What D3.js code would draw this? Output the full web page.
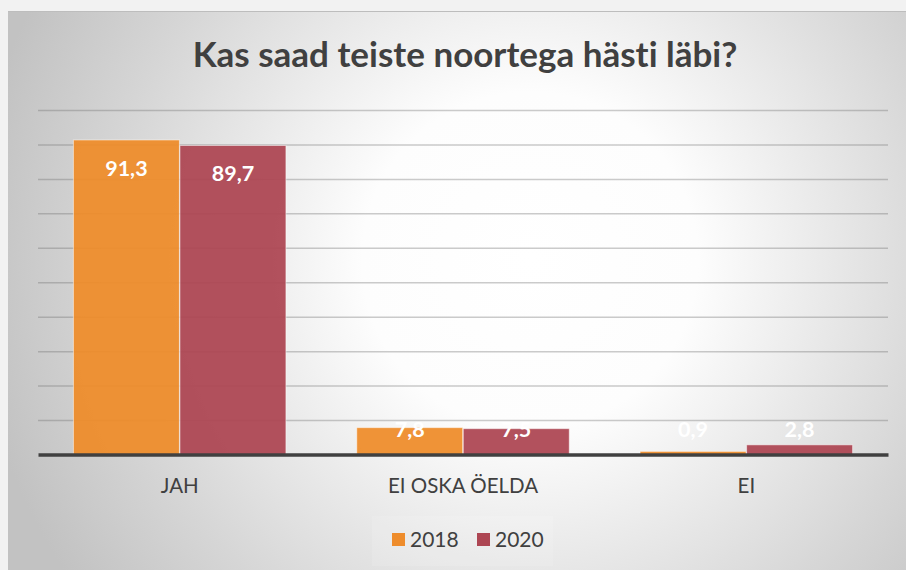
<!DOCTYPE html>
<html>
<head>
<meta charset="utf-8">
<script src="https://cdn.jsdelivr.net/npm/d3@7"></script>
<style>
	body { margin: 0; background: #f2f2f2; }
	text { font-family: Lato, "Open Sans", sans-serif; font-variant-ligatures: none; }
</style>
</head>
<body>
<div id="chart-area"></div>
<script>
// Data
var categories = ["JAH", "EI OSKA ÖELDA", "EI"];
var years = ["2018", "2020"];
var values2018 = [91.3, 7.8, 0.9];
var values2020 = [89.7, 7.5, 2.8];
var gridTicks = [10, 20, 30, 40, 50, 60, 70, 80, 90, 100];

var yearColor = d3.scaleOrdinal()
	.domain(years)
	.range(["#ee8c2b", "#ad4653"]);

var svg = d3.select("#chart-area")
	.append("svg")
	.attr("width", 906)
	.attr("height", 570);

// Panel background
var grad = svg.append("defs")
	.append("radialGradient")
	.attr("id", "bg")
	.attr("gradientUnits", "userSpaceOnUse")
	.attr("cx", 530)
	.attr("cy", 260)
	.attr("r", 560);
grad.append("stop").attr("offset", 0).attr("stop-color", "#ffffff");
grad.append("stop").attr("offset", 0.3).attr("stop-color", "#fdfdfd");
grad.append("stop").attr("offset", 0.75).attr("stop-color", "#d6d6d6");
grad.append("stop").attr("offset", 1).attr("stop-color", "#c2c2c2");

svg.append("rect")
	.attr("x", 8)
	.attr("y", 11)
	.attr("width", 898)
	.attr("height", 559)
	.attr("fill", "url(#bg)");
svg.append("line")
	.attr("x1", 8).attr("x2", 906)
	.attr("y1", 11.5).attr("y2", 11.5)
	.attr("stroke", "#bdbdbd");

// Title
svg.append("text")
	.attr("x", 465)
	.attr("y", 67)
	.attr("text-anchor", "middle")
	.attr("font-size", "35px")
	.attr("font-weight", "bold")
	.attr("fill", "#404040")
	.text("Kas saad teiste noortega hästi läbi?");

// Scales
var x0 = d3.scaleBand()
	.domain(categories)
	.range([38, 888])
	.paddingInner(0.25)
	.paddingOuter(0.125);

var x1 = d3.scaleBand()
	.domain(years)
	.range([0, x0.bandwidth()])
	.paddingInner(0.005);

var y = d3.scaleLinear()
	.domain([0, 100])
	.range([454.5, 110]);

// Gridlines
var yAxis = d3.axisLeft(y)
	.tickValues(gridTicks)
	.tickSize(-(888 - 38))
	.tickFormat("");

svg.append("g")
	.attr("class", "grid")
	.attr("transform", "translate(38,0)")
	.call(yAxis)
	.call(function (g) { g.select(".domain").remove(); })
	.selectAll("line")
	.attr("stroke", "#707070")
	.attr("stroke-opacity", 0.36)
	.attr("stroke-width", 1.5);

// Bars
var rows = categories.map(function (c, i) {
	return { cat: c, vals: [
		{ year: "2018", value: values2018[i] },
		{ year: "2020", value: values2020[i] }
	] };
});

var groups = svg.append("g")
	.selectAll("g")
	.data(rows)
	.enter()
	.append("g")
	.attr("transform", function (d) { return "translate(" + x0(d.cat) + ",0)"; });

groups.selectAll("rect")
	.data(function (d) { return d.vals; })
	.enter()
	.append("rect")
	.attr("x", function (d) { return x1(d.year); })
	.attr("y", function (d) { return y(d.value); })
	.attr("width", x1.bandwidth())
	.attr("height", function (d) { return y(0) - y(d.value); })
	.attr("fill", function (d) { return yearColor(d.year); })
	.attr("fill-opacity", 0.94)
	.attr("stroke", "#ffffff")
	.attr("stroke-opacity", 0.5)
	.attr("stroke-width", 1);

// Value labels
groups.selectAll("text")
	.data(function (d) { return d.vals; })
	.enter()
	.append("text")
	.attr("x", function (d) { return x1(d.year) + x1.bandwidth() / 2; })
	.attr("y", function (d) { return Math.min(y(d.value) + 28, 429); })
	.attr("text-anchor", "middle")
	.attr("dominant-baseline", "central")
	.attr("font-size", "21.5px")
	.attr("font-weight", "bold")
	.attr("fill", "#ffffff")
	.text(function (d) { return String(d.value.toFixed(1)).replace(".", ","); });

// X axis
var xAxis = d3.axisBottom(x0).tickSize(0).tickPadding(0);

var xg = svg.append("g")
	.attr("transform", "translate(0," + y(0) + ")")
	.call(xAxis);
xg.select(".domain")
	.attr("stroke", "#404040")
	.attr("stroke-width", 3.5);
xg.selectAll("text")
	.attr("y", 38.5)
	.attr("dy", null)
	.attr("font-family", "Lato")
	.attr("font-size", "20.5px")
	.attr("fill", "#404040");

// Legend
var legend = svg.append("g")
	.attr("class", "legend");

legend.append("rect")
	.attr("x", 372)
	.attr("y", 516)
	.attr("width", 181)
	.attr("height", 50)
	.attr("fill", "#ffffff")
	.attr("fill-opacity", 0.12);

legend.selectAll("rect.key")
	.data(years)
	.enter()
	.append("rect")
	.attr("class", "key")
	.attr("x", function (d, i) { return 392 + i * 85; })
	.attr("y", 533)
	.attr("width", 13)
	.attr("height", 13)
	.attr("fill", function (d) { return yearColor(d); });

legend.selectAll("text")
	.data(years)
	.enter()
	.append("text")
	.attr("x", function (d, i) { return 410 + i * 85; })
	.attr("y", 547)
	.attr("font-size", "21px")
	.attr("fill", "#404040")
	.text(function (d) { return d; });
</script>
</body>
</html>
